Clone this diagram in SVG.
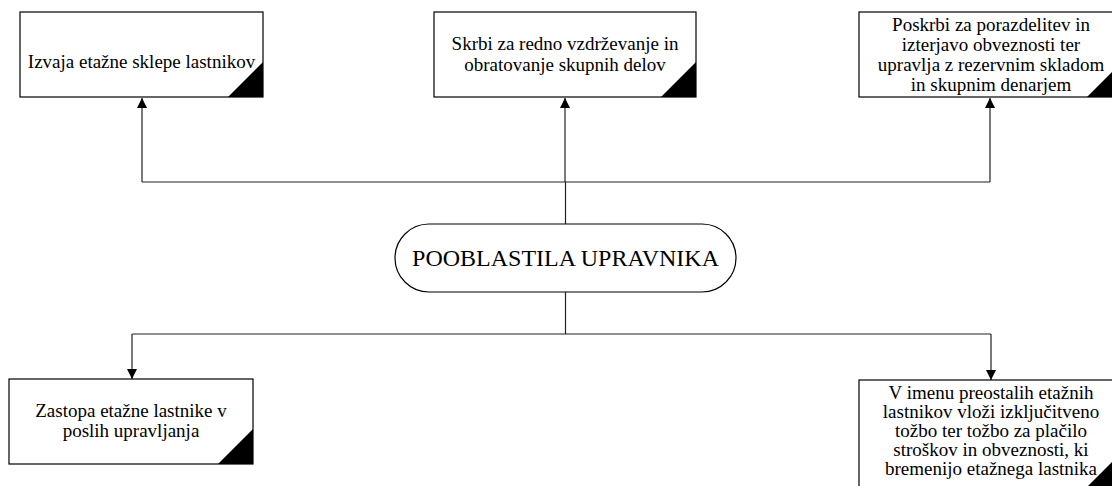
<svg xmlns="http://www.w3.org/2000/svg" width="1112" height="486" viewBox="0 0 1112 486">
<defs>
<style>
.box{fill:#fff;stroke:#000;stroke-width:1.2}
.tri{fill:#000}
.t{font-family:"Liberation Serif","Times New Roman",serif;font-size:19px;fill:#000;text-anchor:middle}
.tb{font-family:"Liberation Serif","Times New Roman",serif;font-size:24px;fill:#000;text-anchor:middle}
.ln{fill:none;stroke:#222;stroke-width:1.2}
</style>
<marker id="ah" viewBox="0 0 10 10" refX="10" refY="5" markerWidth="10" markerHeight="10" markerUnits="userSpaceOnUse" orient="auto">
<path d="M0,0 L10,5 L0,10 Z" fill="#000"/>
</marker>
</defs>
<rect width="1112" height="486" fill="#fff"/>
<g id="connectors">
<path class="ln" d="M565.5 224 V182"/>
<path class="ln" d="M142 182 H990"/>
<path class="ln" d="M142 182 V98" marker-end="url(#ah)"/>
<path class="ln" d="M565 182 V98" marker-end="url(#ah)"/>
<path class="ln" d="M990 182 V98" marker-end="url(#ah)"/>
<path class="ln" d="M565.5 292 V334"/>
<path class="ln" d="M132 334 H991"/>
<path class="ln" d="M132 334 V379" marker-end="url(#ah)"/>
<path class="ln" d="M991 334 V380" marker-end="url(#ah)"/>
</g>
<g id="n1">
<rect class="box" x="20" y="12" width="243" height="85"/>
<polygon class="tri" points="228,97 263,97 263,62"/>
<text class="t" x="141.5" y="68">Izvaja etažne sklepe lastnikov</text>
</g>
<g id="n2">
<rect class="box" x="434" y="12" width="262" height="85"/>
<polygon class="tri" points="661,97 696,97 696,62"/>
<text class="t" x="565" y="50">Skrbi za redno vzdrževanje in</text>
<text class="t" x="565" y="71">obratovanje skupnih delov</text>
</g>
<g id="n3">
<rect class="box" x="859" y="12" width="263" height="85"/>
<polygon class="tri" points="1087,97 1122,97 1122,62"/>
<text class="t" x="991" y="31">Poskrbi za porazdelitev in</text>
<text class="t" x="991" y="51">izterjavo obveznosti ter</text>
<text class="t" x="991" y="71">upravlja z rezervnim skladom</text>
<text class="t" x="991" y="91">in skupnim denarjem</text>
</g>
<g id="center">
<rect class="box" x="395" y="224" width="341" height="68" rx="34" ry="34"/>
<text class="tb" x="565.5" y="266">POOBLASTILA UPRAVNIKA</text>
</g>
<g id="n4">
<rect class="box" x="9" y="379" width="244" height="85"/>
<polygon class="tri" points="218,464 253,464 253,429"/>
<text class="t" x="131" y="417">Zastopa etažne lastnike v</text>
<text class="t" x="131" y="437">poslih upravljanja</text>
</g>
<g id="n5">
<rect class="box" x="859" y="380" width="263" height="107"/>
<polygon class="tri" points="1087,487 1122,487 1122,452"/>
<text class="t" x="991" y="399">V imenu preostalih etažnih</text>
<text class="t" x="991" y="418">lastnikov vloži izključitveno</text>
<text class="t" x="991" y="437">tožbo ter tožbo za plačilo</text>
<text class="t" x="991" y="456">stroškov in obveznosti, ki</text>
<text class="t" x="991" y="475">bremenijo etažnega lastnika</text>
</g>
</svg>
